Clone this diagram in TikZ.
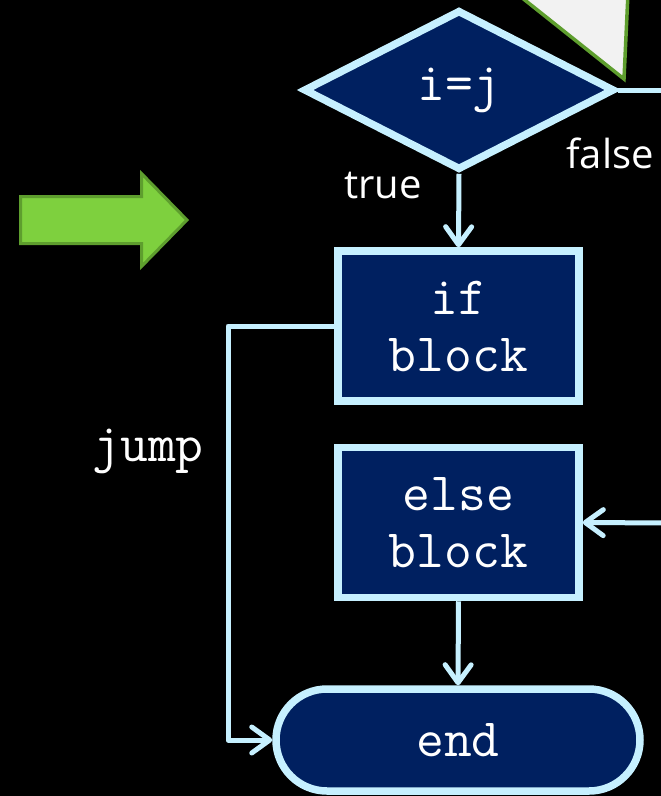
\documentclass[tikz,border=0pt]{standalone}
\usepackage{fontspec}
\setmainfont{Open Sans}
\usetikzlibrary{shapes.geometric,arrows.meta}
\definecolor{navy}{HTML}{002060}
\definecolor{edge}{HTML}{C6F0FF}
\definecolor{leaf}{HTML}{7ED03E}
\definecolor{leafdark}{HTML}{5E9E2E}
\definecolor{paper}{HTML}{F2F2F2}
\newcommand{\codesize}{\ttfamily\fontsize{54}{57}\selectfont}

\begin{document}
\begin{tikzpicture}[x=1pt,y=-1pt,
  box/.style={draw=edge, fill=navy, line width=7.5pt, text=white,
    font=\codesize, align=center, inner sep=0pt},
  decision/.style={box, diamond, minimum width=311pt, minimum height=160pt},
  process/.style={box, rectangle, minimum width=241pt, minimum height=150pt},
  terminal/.style={box, rectangle, rounded corners=51pt, minimum width=364pt, minimum height=102pt},
  flow/.style={draw=edge, line width=5pt, line join=round},
  tip/.style={-{Straight Barb[length=18pt,width=26pt,round]}},
  lbl/.style={text=white, inner sep=0pt, anchor=base},
]
\useasboundingbox (0,0) rectangle (661,796);
\fill[black] (0,0) rectangle (661,796);

% callout pointer entering from the top edge
\begin{scope}
  \clip (0,0) rectangle (661,796);
  \draw[fill=paper, draw=leafdark, line width=3.5pt, line join=miter]
    (462,-50) -- (624,79) -- (630,-50) -- cycle;
\end{scope}

% big green arrow on the left
\draw[fill=leaf, draw=leafdark, line width=3pt, line join=miter]
  (20.5,196.5) -- (141.5,196.5) -- (141.5,173.5) -- (187,220)
  -- (141.5,266.5) -- (141.5,243.5) -- (20.5,243.5) -- cycle;

% flowchart nodes
\node[decision] (dec) at (459,90) {i=j};
\node[process] (ifb) at (458.5,326) {if\\block};
\node[process] (elseb) at (458.5,522.5) {else\\block};
\node[terminal] (endn) at (458,740) {end};

% labels
\node[lbl] (ltrue) at (383,198) {\fontsize{40}{48}\selectfont true};
\node[lbl] (lfalse) at (610,168) {\fontsize{40}{48}\selectfont false};
\node[lbl, font=\codesize] (ljump) at (148,461) {jump};

% connectors
\coordinate (rtop) at (670,90);
\coordinate (rin) at (670,523);
\coordinate (jx) at (228,0);
\draw[flow, tip] (dec.south) -- (ifb.north);
\draw[flow] (dec.east) -- (rtop);
\draw[flow, tip] (rin) -- (elseb.east);
\draw[flow, tip] (elseb.south) -- (endn.north);
\draw[flow, tip] (ifb.west) -- (jx |- ifb.west) -- (jx |- endn.west) -- (endn.west);
\end{tikzpicture}
\end{document}
